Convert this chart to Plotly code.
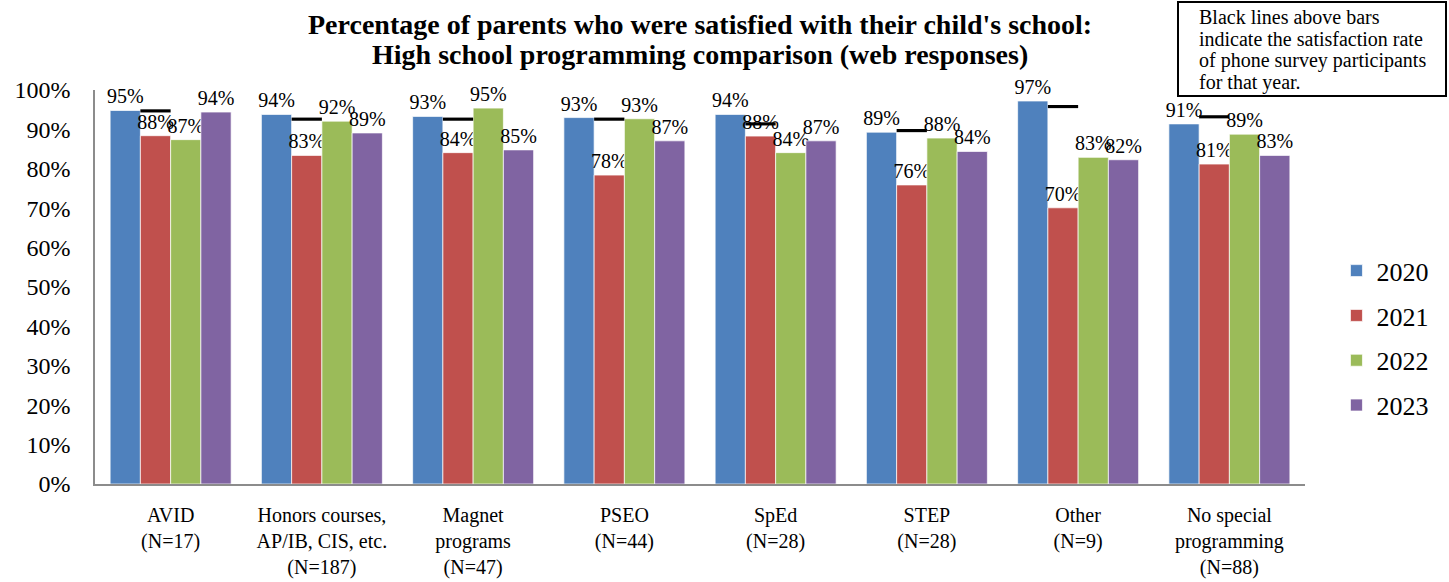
import plotly.graph_objects as go

categories = [
    "AVID<br>(N=17)",
    "Honors courses,<br>AP/IB, CIS, etc.<br>(N=187)",
    "Magnet<br>programs<br>(N=47)",
    "PSEO<br>(N=44)",
    "SpEd<br>(N=28)",
    "STEP<br>(N=28)",
    "Other<br>(N=9)",
    "No special<br>programming<br>(N=88)",
]
years = ["2020", "2021", "2022", "2023"]
values_2020 = [94.8, 93.8, 93.3, 93.0, 93.8, 89.3, 97.2, 91.4]
values_2021 = [88.4, 83.4, 84.1, 78.4, 88.3, 75.9, 70.1, 81.2]
values_2022 = [87.4, 92.1, 95.4, 92.7, 84.1, 87.8, 82.9, 88.8]
values_2023 = [94.4, 89.1, 84.8, 87.1, 87.1, 84.4, 82.3, 83.4]
phone_rate = [94.7, 92.6, 92.6, 92.6, 91.4, 89.7, 95.8, 93.2]
colors = ["#4F81BD", "#C0504D", "#9BBB59", "#8064A2"]
series = [values_2020, values_2021, values_2022, values_2023]

FONT = "Liberation Serif, Times New Roman, serif"
line_thick = 0.8

fig = go.Figure()
for yr, vals, col in zip(years, series, colors):
    fig.add_trace(go.Bar(
        x=categories, y=vals, name=yr, offsetgroup=yr, legendgroup=yr,
        marker=dict(color=col, line=dict(color="rgba(255,255,255,0.7)", width=1)),
        text=[f"{v:.0f}%" for v in vals], textposition="outside",
        textfont=dict(family=FONT, size=20, color="black"),
        constraintext="none", cliponaxis=False,
    ))

fig.add_trace(go.Bar(
    x=categories, y=[line_thick] * len(phone_rate),
    base=[p - line_thick / 2 for p in phone_rate],
    offsetgroup="2021", showlegend=False, marker=dict(color="black", line=dict(width=0)),
    hoverinfo="skip",
))

fig.update_layout(
    width=1449, height=582,
    margin=dict(l=95, r=144, t=90, b=98, autoexpand=False),
    paper_bgcolor="white", plot_bgcolor="white",
    barmode="group", bargap=0.2, bargroupgap=0,
    font=dict(family=FONT, color="black"),
    showlegend=True,
    legend=dict(x=1.026, y=0.37, xanchor="left", yanchor="middle",
                font=dict(family=FONT, size=26), tracegroupgap=8,
                traceorder="grouped"),
    xaxis=dict(showline=True, linecolor="#8c8c8c", linewidth=2, ticks="",
               tickfont=dict(family=FONT, size=20), ticklabelstandoff=12,
               automargin=False),
    yaxis=dict(range=[0, 100], dtick=10, ticksuffix="%", showgrid=False,
               showline=True, linecolor="#8c8c8c", linewidth=1.5, zeroline=False,
               tickfont=dict(family=FONT, size=24), ticklabelstandoff=18,
               automargin=False),
)

fig.add_annotation(text="<b>Percentage of parents who were satisfied with their child's school:</b>",
                   xref="paper", yref="paper", x=0.5, y=1.165, xanchor="center", yanchor="middle",
                   showarrow=False, font=dict(family=FONT, size=28, color="black"))
fig.add_annotation(text="<b>High school programming comparison (web responses)</b>",
                   xref="paper", yref="paper", x=0.5, y=1.089, xanchor="center", yanchor="middle",
                   showarrow=False, font=dict(family=FONT, size=28, color="black"))

note_lines = ["Black lines above bars", "indicate the satisfaction rate",
              "of phone survey participants", "for that year."]
fig.add_shape(type="rect", xref="paper", yref="paper",
              x0=(1178 - 95) / 1210, x1=(1446 - 95) / 1210,
              y0=(484 - 96) / 394, y1=(484 - 2) / 394,
              line=dict(color="black", width=2), fillcolor="white")
for i, t in enumerate(note_lines):
    fig.add_annotation(text=t, xref="paper", yref="paper",
                       x=(1197 - 95) / 1210, y=(484 - (17 + 21.7 * i)) / 394,
                       xanchor="left", yanchor="middle", showarrow=False,
                       font=dict(family=FONT, size=20, color="black"))

fig.write_html("out.html", config={"displayModeBar": False},
               post_script="document.body.style.margin='0';document.body.style.overflow='hidden';")
